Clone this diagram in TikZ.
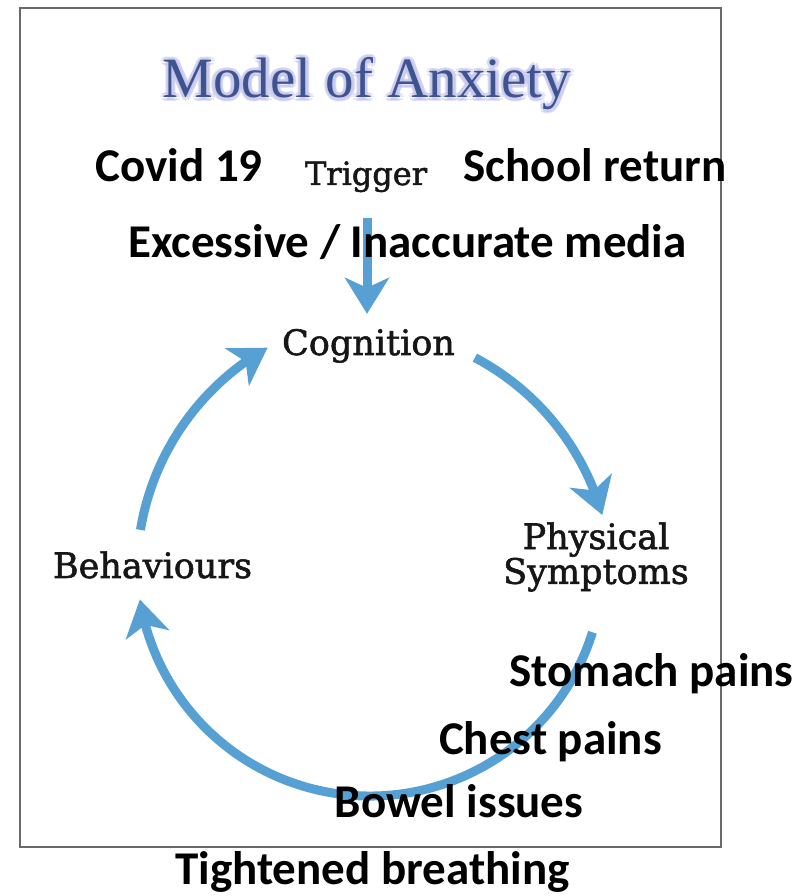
\documentclass[tikz,border=0pt]{standalone}
\usepackage{fontspec}
\setmainfont{DejaVu Serif}
\newfontfamily\stagefont[FakeBold=1.6]{DejaVu Serif}
\newfontfamily\calibfont{Carlito}
\newfontfamily\headfont{Liberation Serif}
\usetikzlibrary{arrows.meta,bending}
\definecolor{cyclebl}{RGB}{86,160,211}
\definecolor{headbl}{RGB}{62,84,142}
\definecolor{glowbl}{RGB}{196,196,236}
\definecolor{stagetx}{RGB}{22,22,22}
\definecolor{framegr}{RGB}{105,105,105}

\begin{document}
\begin{tikzpicture}[x=1pt,y=1pt,
  stage/.style={inner sep=0pt, text=stagetx, font=\stagefont\fontsize{35}{33}\selectfont},
  note/.style={inner sep=0pt, anchor=base, text=black, font=\calibfont\bfseries\fontsize{47}{50}\selectfont},
  headline/.style={inner sep=0pt, anchor=base, font=\headfont\fontsize{57}{60}\selectfont},
  flow/.style={draw=cyclebl, line width=9pt, -{Stealth[length=36pt,width=44pt,inset=10pt]}},
]
\useasboundingbox (0,0) rectangle (800,896);
\fill[white] (0,0) rectangle (800,896);
\draw[framegr, line width=2pt] (20,49) rectangle (721,888);

% heading with a soft halo
\foreach \a in {0,45,...,315}
  \node[headline, text=glowbl, opacity=0.5, shift={(\a:3.5)}] at (367,798) {Model of Anxiety};
\node[headline, text=headbl] (title) at (367,798) {Model of Anxiety};

% stages of the cycle
\node[stage, anchor=base, font=\stagefont\fontsize{32}{34}\selectfont] (trigger) at (366,711) {Trigger};
\node[stage, anchor=base] (cog) at (368.5,541) {Cognition};
\node[stage, align=center] (phys) at (596,339) {Physical\\Symptoms};
\node[stage, anchor=base] (behav) at (152.5,318) {Behaviours};

% arc centres of the cycle
\coordinate (upL) at (395,324);
\coordinate (upR) at (355,311);
\coordinate (low) at (370,333);

% arrows
\draw[flow] ([xshift=1pt,yshift=-26pt]trigger.south) -- ([xshift=-1.5pt,yshift=15pt]cog.north);
\draw[flow] (upR) ++(62.2:257) arc[start angle=62.2, end angle=15.8, radius=257];
\draw[flow] (low) ++(-17.3:233) arc[start angle=-17.3, end angle=-171, radius=233];
\draw[flow] (upL) ++(170.6:258) arc[start angle=170.6, end angle=119.6, radius=258];

% examples, lying over the arrows
\node[note] (covid) at (179,714) {Covid 19};
\node[note] (school) at (595,714) {School return};
\node[note] (media) at (407.5,638) {Excessive / Inaccurate media};
\node[note] (stomach) at (651.5,209) {Stomach pains};
\node[note] (chest) at (550.5,141) {Chest pains};
\node[note] (bowel) at (459,78) {Bowel issues};
\node[note] (breath) at (372.5,11) {Tightened breathing};
\end{tikzpicture}
\end{document}
